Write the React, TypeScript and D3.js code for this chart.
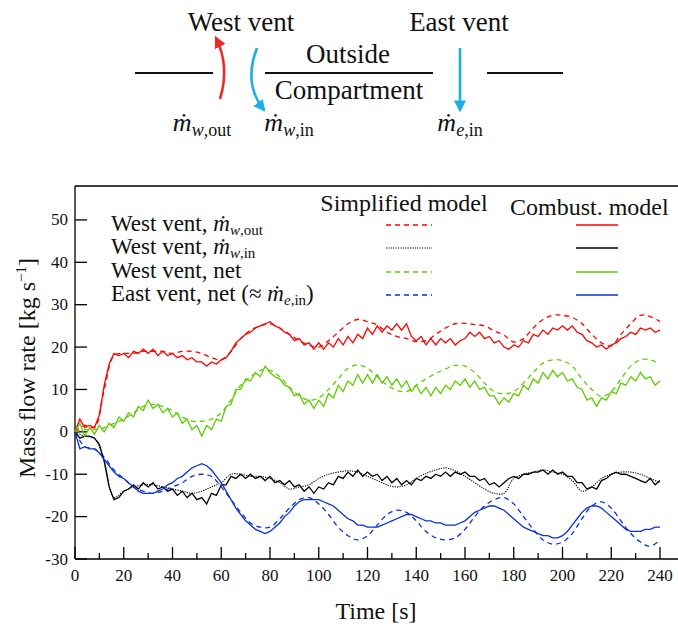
import React from "react";
import * as d3 from "d3";

// ---- data ----
// Combustion model, sampled every 2 s from 0 to 240 s
const tCombust = d3.range(0, 241, 2);
// Simplified model, sampled every 4 s from 0 to 240 s
const tSimplified = d3.range(0, 241, 4);

const redCombust = [
  0, 3, 1, 1.5, 1, 4, 11, 16, 18.5, 18,
  18.5, 17.5, 19, 18.5, 19.5, 18.5, 19.5, 18, 19, 18,
  18.5, 17.5, 18, 17, 17.5, 16.5, 16.5, 15.5, 16.5, 16,
  17, 17.5, 19, 21, 22, 23, 23.5, 24.5, 25, 25.5,
  26, 25, 24.5, 23.5, 23, 21.5, 22, 20.5, 21, 19.5,
  21, 19.5, 21, 20, 22, 20.5, 22.5, 21, 23, 22,
  24.5, 23, 25, 23.5, 25, 24, 25.5, 24, 25.5, 22.5,
  21.5, 22.5, 20.5, 22, 20.5, 22, 21, 22, 20.5, 21.5,
  22, 23.5, 22.5, 23.5, 22, 22.5, 21, 21.5, 20, 19.5,
  20.5, 20, 21.5, 21, 23, 22.5, 24, 23, 24.5, 24,
  25, 24, 25, 23.5, 23, 21.5, 21, 20, 20.5, 19.5,
  20.5, 21, 22, 22.5, 23.5, 23, 24.5, 24, 24.5, 23.5,
  24,
];
const blackCombust = [
  0, -1.5, -1, -1, -1.5, -3, -7, -13, -16, -15.5,
  -14, -13.5, -12.5, -13.5, -12, -13, -12, -13.5, -13, -14,
  -13.5, -15, -14, -15.5, -14.5, -16, -15.5, -17, -14.5, -15,
  -12.5, -12.5, -10.5, -11, -10, -11, -10, -11, -10.5, -11.5,
  -10.5, -12, -11.5, -12.5, -11.5, -13, -12.5, -14, -13, -14.5,
  -13, -13.5, -12, -12.5, -10.5, -11, -9.5, -10.5, -9, -10.5,
  -9.5, -10.5, -10, -11.5, -10.5, -12, -11, -12.5, -11.5, -12.5,
  -11, -11.5, -10.5, -11, -10, -10.5, -9.5, -10.5, -9.5, -10,
  -9.5, -10.5, -10.5, -11.5, -11, -12.5, -12, -13, -12, -11,
  -10.5, -11, -10, -10, -9.5, -9.5, -9, -10, -9, -10,
  -9.5, -10.5, -10.5, -12, -12, -13.5, -13, -13.5, -11.5, -11,
  -10, -9.5, -10, -10, -10.5, -11, -11.5, -12, -11, -12.5,
  -11.5,
];
const greenCombust = [
  0, 2, -1, 1, -0.5, 1.5, 0, 2, 1, 3.5,
  2.5, 4.5, 3.5, 6, 5, 7.5, 5.5, 6.5, 4.5, 5.5,
  3.5, 4.5, 2, 3, 0.5, 1.5, -1, 1.5, 0.5, 3,
  2.5, 6, 6.5, 10, 10, 12.5, 12, 14, 13, 15.5,
  14, 13, 12.5, 11, 10.5, 8.5, 9, 6.5, 7.5, 5.5,
  7.5, 6, 9, 8, 11, 9.5, 12, 11, 13.5, 11.5,
  13.5, 11.5, 13.5, 11.5, 13, 11, 12.5, 10.5, 12, 9.5,
  11, 9, 10.5, 8.5, 10.5, 9, 11, 10, 12, 11,
  12.5, 10.5, 12, 10, 10.5, 8.5, 8.5, 6.5, 8, 7,
  9, 8.5, 11, 10, 12.5, 11.5, 14, 12.5, 14.5, 13,
  14, 12, 12.5, 10.5, 10, 7.5, 8, 6, 8, 7.5,
  9.5, 9, 11.5, 11, 13, 12, 14, 12.5, 13, 11,
  12,
];
const blueCombust = [
  0, -4, -3.5, -4, -4, -5, -6.5, -8, -9.5, -10.5,
  -11, -12, -13, -14, -14.5, -14.5, -14.5, -14, -13.5, -12.5,
  -12, -11, -10.5, -9.5, -8.5, -8, -7.5, -8, -9, -10.5,
  -12, -14, -16, -18, -19.5, -21, -22, -23, -23.5, -24,
  -23.5, -22.5, -21.5, -20, -19, -17.5, -16.5, -16, -16, -16,
  -16, -16.5, -17, -17.5, -18.5, -19.5, -20.5, -21, -22, -22,
  -22.5, -22.5, -22.5, -22, -21.5, -21, -20.5, -20, -19.5, -19.5,
  -20, -20.5, -21, -21, -21.5, -21.5, -22, -22, -22, -21.5,
  -21, -20, -19, -18.5, -18, -17.5, -17.5, -18, -18.5, -19.5,
  -20.5, -21.5, -22.5, -23, -23.5, -24, -24.5, -24.5, -25, -25,
  -24.5, -23.5, -22, -20.5, -19, -18, -17.5, -17.5, -18, -19,
  -20, -21, -22, -23, -23.5, -23.5, -23.5, -23, -23, -22.5,
  -22.5,
];

const redSimplified = [
  0, 1.5, 1, 10, 18, 18.5, 18.5, 19, 19, 19,
  18.5, 19, 19, 18.5, 17.5, 17, 19, 22, 24, 25,
  25.5, 24.5, 23, 21.5, 20.5, 20, 21.5, 23.5, 25.5, 26.5,
  26, 25.2, 23.5, 22.5, 22, 21.3, 21.5, 23, 24.5, 25.5,
  25.6, 25.3, 25, 23.8, 22.8, 21.2, 22, 24.5, 26.5, 27.5,
  27.5, 27, 25.5, 23, 21, 20.3, 23, 25.5, 27.5, 27.2,
  26,
];
const blackSimplified = [
  0, -1, -1.5, -7, -15.5, -14, -13, -12.5, -12.5, -13,
  -13.5, -14, -14.5, -14, -13, -12, -10, -10, -10.5, -10.5,
  -11, -12, -13.5, -13, -12.5, -11, -10, -9.5, -9.2, -9.5,
  -10.5, -11.5, -12.5, -13, -12.5, -11, -9.8, -9, -8.5, -9.2,
  -10.5, -12, -13.5, -14.5, -14.5, -11, -10, -9.5, -9, -9.5,
  -10, -11.5, -14, -13, -11, -10, -9.5, -9.5, -10, -11,
  -12,
];
const greenSimplified = [
  0, 0.5, 0.5, 1, 2, 3, 4.5, 6, 6.5, 6,
  5, 3.5, 2.5, 2.5, 3, 4.5, 7.5, 11, 13, 14.5,
  14.5, 13, 10.5, 8.5, 7.5, 8, 10, 12.5, 15, 15.8,
  15, 13, 11, 9.8, 9.5, 11, 12.5, 13.8, 14.8, 15.7,
  15.5, 14, 11.5, 9.5, 9, 9.5, 11.5, 14, 16.2, 17,
  16.8, 15.5, 12.5, 10, 8.3, 9.5, 12.5, 15.5, 17, 17,
  16,
];
const blueSimplified = [
  0, -3.5, -4, -6, -9, -11, -13, -14, -14.5, -14,
  -13, -12, -10.5, -10, -10.5, -13, -16, -19, -21.5, -22.5,
  -22.5, -20.5, -18, -16, -15.5, -17, -19.5, -22.5, -24.5, -25.5,
  -24.5, -22, -19.5, -18.5, -19, -21, -23.5, -25, -25.5, -25,
  -23, -20, -17.5, -16, -15.5, -17, -20, -23, -25.5, -26.5,
  -26, -24, -20.5, -17.5, -16.5, -18, -21, -24, -26, -27,
  -25.5,
];

const xTicksMajor = [0, 20, 40, 60, 80, 100, 120, 140, 160, 180, 200, 220, 240];
const xTicksMinor = [10, 30, 50, 70, 90, 110, 130, 150, 170, 190, 210, 230];
const yTicks = [-30, -20, -10, 0, 10, 20, 30, 40, 50];

const seriesColors = ["#ff0000", "#000000", "#5fcc00", "#0a32d2"];
const legendNames = ["West vent, ", "West vent, ", "West vent, net", "East vent, net (≈ "];

const FONT = "Liberation Serif";
const ff = { fontFamily: FONT };

export default function App() {
  const W = 678, H = 626;
  const x = d3.scaleLinear().domain([0, 240]).range([75, 660]);
  const y = d3.scaleLinear().domain([-30, 58]).range([559, 186]);
  const frameRight = 678;

  const mkLine = (ts: number[], vs: number[], curve: d3.CurveFactory) =>
    d3
      .line<number>()
      .x((_, i) => x(ts[i]))
      .y((v) => y(v))
      .curve(curve)(vs) as string;

  const combust = [redCombust, blackCombust, greenCombust, blueCombust];
  const simplified = [redSimplified, blackSimplified, greenSimplified, blueSimplified];
  const simpDash = ["5,4", "1.2,1.2", "5,4", "5,4"];

  const rowY = [225, 248, 272, 295];

  const mdot = (key: string, sub: React.ReactNode, size: number, subSize: number, dy: number) => (
    <>
      <tspan key={key + "m"} fontStyle="italic" fontSize={size}>ṁ</tspan>
      <tspan key={key + "s"} fontSize={subSize} dy={dy}>{sub}</tspan>
    </>
  );

  return (
    <svg
      width={W}
      height={H}
      viewBox={`0 0 ${W} ${H}`}
      style={{ position: "absolute", left: 0, top: 0, background: "#fff", fontFamily: FONT }}
    >
      <defs>
        <marker id="ahRed" viewBox="0 0 10 10" refX="8" refY="5" markerWidth="4.6" markerHeight="4.6" orient="auto">
          <path d="M0,0 L10,5 L0,10 z" fill="#ec2a2a" />
        </marker>
        <marker id="ahBlue" viewBox="0 0 10 10" refX="8" refY="5" markerWidth="4.6" markerHeight="4.6" orient="auto">
          <path d="M0,0 L10,5 L0,10 z" fill="#1aaeea" />
        </marker>
      </defs>

      {/* ---- top schematic ---- */}
      <g fill="#111" style={ff}>
        <text x={241} y={31} fontSize={27} textAnchor="middle" style={ff}>West vent</text>
        <text x={459} y={31} fontSize={27} textAnchor="middle" style={ff}>East vent</text>
        <text x={348} y={63} fontSize={27} textAnchor="middle" style={ff}>Outside</text>
        <text x={349} y={99} fontSize={27} textAnchor="middle" style={ff}>Compartment</text>
      </g>
      <g stroke="#111" strokeWidth={2}>
        <line x1={135} x2={213} y1={73} y2={73} />
        <line x1={265} x2={433} y1={73} y2={73} />
        <line x1={487} x2={563} y1={73} y2={73} />
      </g>
      <path d="M220,99 Q230,66 216,38" fill="none" stroke="#ec2a2a" strokeWidth={2.6} markerEnd="url(#ahRed)" />
      <path d="M257,48 Q243,84 264,110" fill="none" stroke="#1aaeea" strokeWidth={2.6} markerEnd="url(#ahBlue)" />
      <path d="M460,48 L460,110" fill="none" stroke="#1aaeea" strokeWidth={2.6} markerEnd="url(#ahBlue)" />
      <g fill="#111">
        <text x={202} y={131} fontSize={26} textAnchor="middle" style={ff}>
          {mdot("a", <><tspan fontStyle="italic">w</tspan>,out</>, 26, 18, 5)}
        </text>
        <text x={289} y={131} fontSize={26} textAnchor="middle" style={ff}>
          {mdot("b", <><tspan fontStyle="italic">w</tspan>,in</>, 26, 18, 5)}
        </text>
        <text x={460} y={131} fontSize={26} textAnchor="middle" style={ff}>
          {mdot("c", <><tspan fontStyle="italic">e</tspan>,in</>, 26, 18, 5)}
        </text>
      </g>

      {/* ---- plot frame & axes ---- */}
      <g stroke="#000" strokeWidth={1.3} fill="none">
        <line x1={x(0)} x2={frameRight} y1={186} y2={186} />
        <line x1={x(0)} x2={frameRight} y1={559} y2={559} />
        <line x1={x(0)} x2={x(0)} y1={186} y2={559} />
        {yTicks.map((t) => (
          <line key={"yt" + t} x1={x(0)} x2={x(0) + 12} y1={y(t)} y2={y(t)} />
        ))}
        {xTicksMajor.map((t) => (
          <line key={"xt" + t} x1={x(t)} x2={x(t)} y1={559} y2={547} />
        ))}
        {xTicksMinor.map((t) => (
          <line key={"xm" + t} x1={x(t)} x2={x(t)} y1={559} y2={553} />
        ))}
      </g>
      <g fill="#111" fontSize={17}>
        {yTicks.map((t) => (
          <text key={"yl" + t} x={68} y={y(t) + 5.5} textAnchor="end" style={ff}>{t}</text>
        ))}
        {xTicksMajor.map((t) => (
          <text key={"xl" + t} x={x(t)} y={581} textAnchor="middle" style={ff}>{t}</text>
        ))}
      </g>
      <text x={376} y={619} fontSize={24} textAnchor="middle" fill="#111" style={ff}>Time [s]</text>
      <text transform="translate(35,368) rotate(-90)" fontSize={24} textAnchor="middle" fill="#111" style={ff}>
        Mass flow rate [kg s<tspan fontSize={15} dy={-9}>−1</tspan><tspan dy={9}>]</tspan>
      </text>

      {/* ---- data lines ---- */}
      <g fill="none" strokeWidth={1.3}>
        {simplified.map((vs, i) => (
          <path
            key={"s" + i}
            d={mkLine(tSimplified, vs, d3.curveCatmullRom)}
            stroke={seriesColors[i]}
            strokeDasharray={simpDash[i]}
            strokeWidth={i === 1 ? 1.1 : 1.3}
          />
        ))}
        {combust.map((vs, i) => (
          <path key={"c" + i} d={mkLine(tCombust, vs, d3.curveLinear)} stroke={seriesColors[i]} />
        ))}
      </g>

      {/* ---- legend ---- */}
      <g fill="#111">
        <text x={404} y={211} fontSize={24} textAnchor="middle" style={ff}>Simplified model</text>
        <text x={510} y={215} fontSize={24} style={ff}>Combust. model</text>
        <text x={111} y={rowY[0] + 6} fontSize={23} style={ff}>
          {legendNames[0]}
          {mdot("l1", <><tspan fontStyle="italic">w</tspan>,out</>, 23, 15, 4)}
        </text>
        <text x={111} y={rowY[1] + 6} fontSize={23} style={ff}>
          {legendNames[1]}
          {mdot("l2", <><tspan fontStyle="italic">w</tspan>,in</>, 23, 15, 4)}
        </text>
        <text x={111} y={rowY[2] + 6} fontSize={23} style={ff}>{legendNames[2]}</text>
        <text x={111} y={rowY[3] + 6} fontSize={23} style={ff}>
          {legendNames[3]}
          {mdot("l4", <><tspan fontStyle="italic">e</tspan>,in</>, 23, 15, 4)}
          <tspan dy={-4}>)</tspan>
        </text>
      </g>
      <g fill="none" strokeWidth={1.3}>
        {seriesColors.map((c, i) => (
          <g key={"lg" + i}>
            <line x1={386} x2={432} y1={rowY[i]} y2={rowY[i]} stroke={c} strokeDasharray={simpDash[i]} strokeWidth={i === 1 ? 1.1 : 1.3} />
            <line x1={576} x2={618} y1={rowY[i]} y2={rowY[i]} stroke={c} />
          </g>
        ))}
      </g>
    </svg>
  );
}
